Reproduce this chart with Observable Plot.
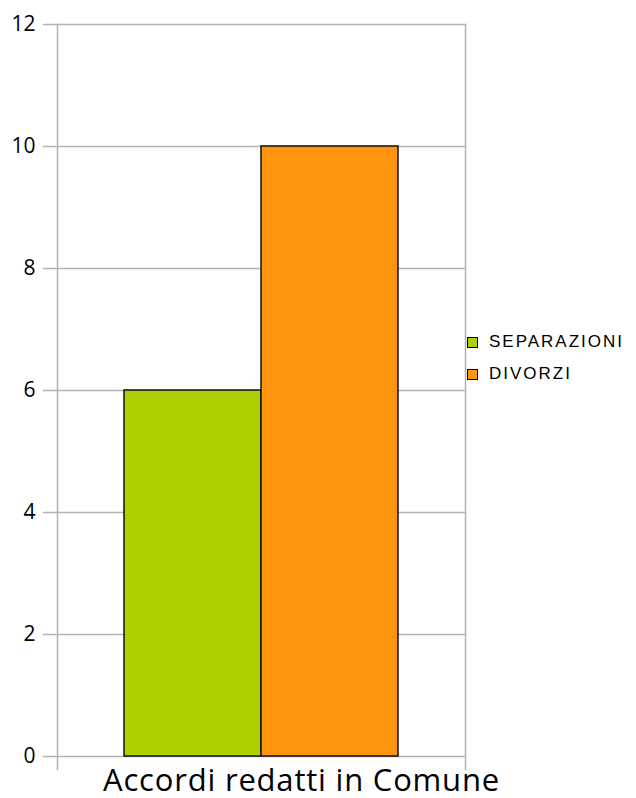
<!DOCTYPE html>
<html><head><meta charset="utf-8">
<script src="https://cdn.jsdelivr.net/npm/d3@7"></script>
<script src="https://cdn.jsdelivr.net/npm/@observablehq/plot@0.6"></script>
<style>
body{margin:0;background:#fff;}
#wrap{position:relative;width:636px;height:798px;}
#legend{position:absolute;left:467px;top:326px;font-family:"Liberation Sans",Arial,sans-serif;font-size:17px;letter-spacing:2px;color:#000;}
.item{display:flex;align-items:center;height:32px;}
.sw{width:9px;height:9px;border:1.5px solid #000;margin-right:11px;flex:none;}
.xlabel text{letter-spacing:0.8px;}
</style></head><body><div id="wrap"><div id="chart"></div><div id="legend"></div></div>
<script>
const category = "Accordi redatti in Comune";
const series = ["SEPARAZIONI", "DIVORZI"];
const values = [6, 10];
const colors = ["#aecf00", "#ff950e"];
const yTicks = [0, 2, 4, 6, 8, 10, 12];

const data = series.map((s, i) => ({series: s, value: values[i]}));

const chart = Plot.plot({
  width: 636, height: 798,
  marginLeft: 57, marginRight: 171, marginTop: 24, marginBottom: 42,
  x: {domain: series, paddingInner: 0, paddingOuter: 0.489, axis: null},
  y: {domain: [0, 12]},
  color: {domain: series, range: colors},
  style: {fontFamily: "'Open Sans', sans-serif", background: "#fff", color: "#000"},
  marks: [
    Plot.ruleY(yTicks, {stroke: "#b3b3b3", strokeWidth: 1.5, insetLeft: -14}),
    Plot.frame({anchor: "left", stroke: "#b3b3b3", strokeWidth: 1.5, insetBottom: -13}),
    Plot.frame({anchor: "right", stroke: "#b3b3b3", strokeWidth: 1.5, insetBottom: -13}),
    Plot.barY(data, {x: "series", y: "value", fill: "series", stroke: "#111", strokeWidth: 1.5}),
    Plot.axisY({ticks: yTicks, tickSize: 0, tickPadding: 22, fontSize: 21, label: null}),
    Plot.text([category], {frameAnchor: "bottom", dx: 40, dy: 34, lineAnchor: "bottom", fontSize: 31, fill: "#000", className: "xlabel"})
  ]
});
document.getElementById("chart").appendChild(chart);

const legend = document.getElementById("legend");
series.forEach((s, i) => {
  const item = document.createElement("div");
  item.className = "item";
  const sw = document.createElement("span");
  sw.className = "sw";
  sw.style.background = colors[i];
  const t = document.createElement("span");
  t.textContent = s;
  item.appendChild(sw);
  item.appendChild(t);
  legend.appendChild(item);
});
</script>
</body></html>
